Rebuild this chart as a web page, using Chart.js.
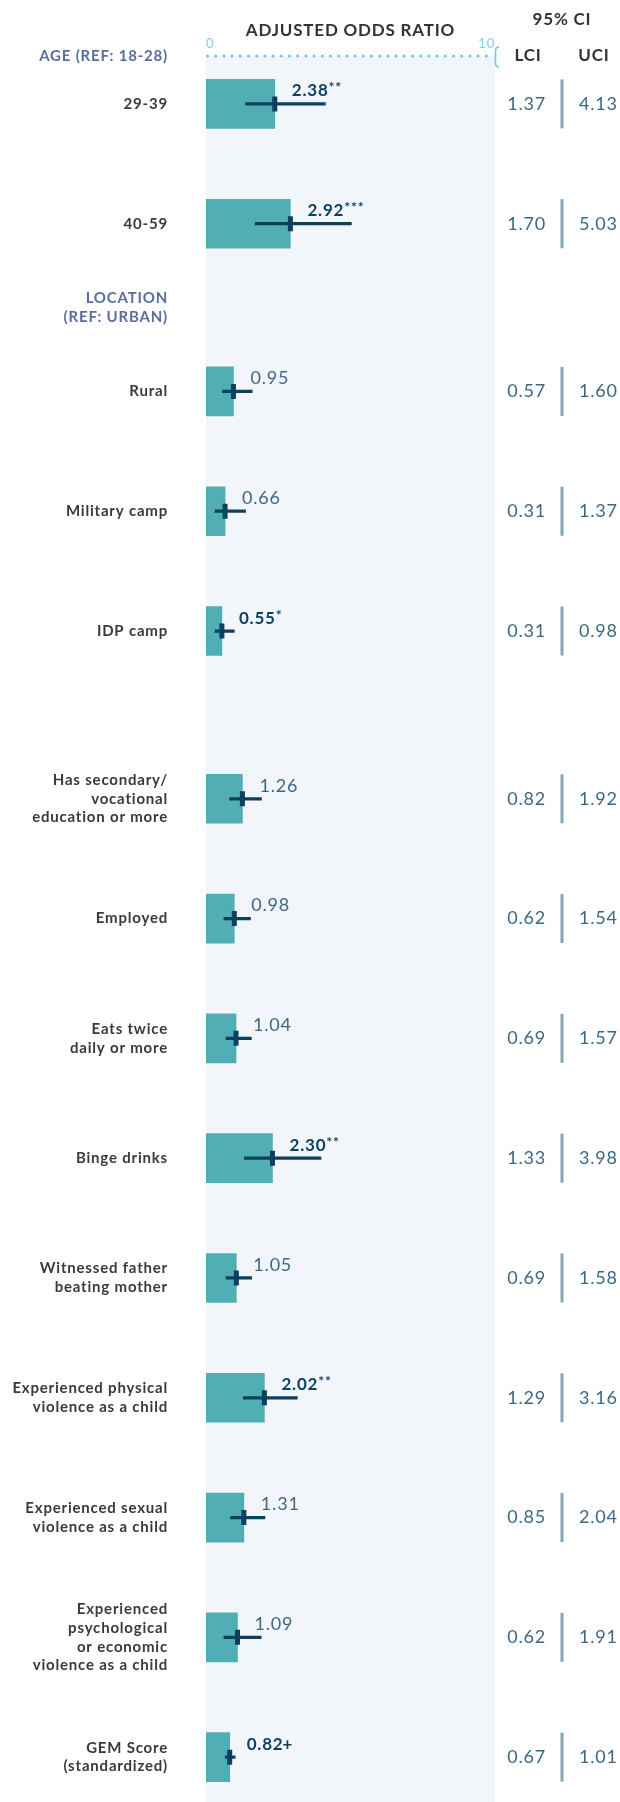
<!DOCTYPE html>
<html>
<head>
<meta charset="utf-8">
<script src="https://cdn.jsdelivr.net/npm/chart.js@4.4.1/dist/chart.umd.min.js"></script>
<style>
  html, body { margin: 0; padding: 0; background: #fff; }
  #wrap { position: relative; width: 620px; height: 1802px; }
</style>
</head>
<body>
<div id="wrap"><canvas id="chartOdds"></canvas></div>
<script>
/* Adjusted odds ratios with 95% CI */

const groupHeaders = [['AGE (REF: 18-28)'], ['LOCATION', '(REF: URBAN)'], []];

const categories = [
    ['29-39'],
    ['40-59'],
    ['Rural'],
    ['Military camp'],
    ['IDP camp'],
    ['Has secondary/', 'vocational', 'education or more'],
    ['Employed'],
    ['Eats twice', 'daily or more'],
    ['Binge drinks'],
    ['Witnessed father', 'beating mother'],
    ['Experienced physical', 'violence as a child'],
    ['Experienced sexual', 'violence as a child'],
    ['Experienced', 'psychological', 'or economic', 'violence as a child'],
    ['GEM Score', '(standardized)']
];
const categoryGroup = [0, 0, 1, 1, 1, 2, 2, 2, 2, 2, 2, 2, 2, 2];

const oddsRatios   = [2.38, 2.92, 0.95, 0.66, 0.55, 1.26, 0.98, 1.04, 2.30, 1.05, 2.02, 1.31, 1.09, 0.82];
const lowerCI      = [1.37, 1.70, 0.57, 0.31, 0.31, 0.82, 0.62, 0.69, 1.33, 0.69, 1.29, 0.85, 0.62, 0.67];
const upperCI      = [4.13, 5.03, 1.60, 1.37, 0.98, 1.92, 1.54, 1.57, 3.98, 1.58, 3.16, 2.04, 1.91, 1.01];
const significance = ['**', '***', '', '', '*', '', '', '', '**', '', '**', '', '', '+'];

const xTicks = [0, 10];

// colores
const TEAL = '#52aeb5';
const NAVY = '#0d3f5f';
const PANEL = '#f2f6fb';
const SKY = '#74c7e5';
const SLATE = '#5a6d9f';
const LABEL = '#3a3a3a';
const CI_TEXT = '#3d6884';
const CI_RULE = '#87a5b5';
const FONT = 'Lato';

// posiciones de filas: cada grupo nuevo deja un hueco extra
const GROUP_GAP = 0.4;
const rowPos = categories.map((c, i) => i + categoryGroup[i] * GROUP_GAP);
const Y_MIN = -0.4;
const Y_MAX = 14.07;

// ticks del eje y: cabeceras de grupo + filas
const yTicks = [];
groupHeaders.forEach((h, g) => {
    if (!h.length) return;
    const first = categoryGroup.indexOf(g);
    yTicks.push({ value: Math.max(Y_MIN, rowPos[first] - 0.7), label: h, header: true });
});
categories.forEach((c, i) => yTicks.push({ value: rowPos[i], label: c, header: false }));

/**
 * Fondo del panel, linea punteada del eje y tipografia espaciada
 */
const panelPlugin = {
    id: 'panel',
    beforeDraw(chart) {
        const { ctx, chartArea: a } = chart;
        ctx.save();
        ctx.fillStyle = PANEL;
        ctx.fillRect(a.left, a.top, a.right - a.left, chart.height - a.top);

        ctx.strokeStyle = SKY;
        ctx.lineWidth = 3.2;
        ctx.lineCap = 'round';
        ctx.setLineDash([0, 8.2]);
        ctx.beginPath();
        ctx.moveTo(a.left + 1.5, a.top);
        ctx.lineTo(a.right - 3, a.top);
        ctx.stroke();
        ctx.restore();
        ctx.letterSpacing = '0.8px';
    }
};

/**
 * Etiquetas de valor, columnas LCI / UCI y cabeceras
 */
const labelsPlugin = {
    id: 'oddsLabels',
    afterDatasetsDraw(chart) {
        const { ctx, chartArea: a, scales: { x, y } } = chart;
        const colL = a.right + 51;
        const colRule = a.right + 67;
        const colU = a.right + 84;

        ctx.save();
        ctx.textBaseline = 'middle';

        oddsRatios.forEach((or, i) => {
            const yc = y.getPixelForValue(rowPos[i]);
            let tx = x.getPixelForValue(or) + 17;
            const ty = yc - 13;
            const sig = significance[i];
            const txt = or.toFixed(2);
            ctx.textAlign = 'left';
            if (sig) {
                ctx.font = `700 17px ${FONT}`;
                ctx.fillStyle = NAVY;
                ctx.fillText(txt, tx, ty);
                tx += ctx.measureText(txt).width;
                if (sig === '+') {
                    ctx.fillText('+', tx - 1, ty);
                } else {
                    ctx.font = `700 14px ${FONT}`;
                    ctx.fillText(sig, tx, ty - 3);
                }
            } else {
                ctx.font = `400 18px ${FONT}`;
                ctx.fillStyle = CI_TEXT;
                ctx.fillText(txt, tx, ty);
            }

            ctx.font = `400 18px ${FONT}`;
            ctx.fillStyle = CI_TEXT;
            ctx.textAlign = 'right';
            ctx.fillText(lowerCI[i].toFixed(2), colL, yc);
            ctx.textAlign = 'left';
            ctx.fillText(upperCI[i].toFixed(2), colU, yc);

            ctx.fillStyle = CI_RULE;
            ctx.fillRect(colRule - 1.5, yc - 24.5, 3, 49);
        });

        // cabeceras de columnas
        ctx.fillStyle = '#333';
        ctx.textAlign = 'center';
        ctx.font = `700 17px ${FONT}`;
        ctx.fillText('95% CI', colRule, 20);
        ctx.fillText('LCI', colL - 18, a.top);
        ctx.fillText('UCI', colU + 15, a.top);

        // corchete al final del eje
        ctx.strokeStyle = SKY;
        ctx.lineWidth = 1.6;
        ctx.beginPath();
        ctx.moveTo(a.right + 4, a.top - 9);
        ctx.quadraticCurveTo(a.right + 0.5, a.top - 9, a.right + 0.5, a.top - 5);
        ctx.lineTo(a.right + 0.5, a.top + 7);
        ctx.quadraticCurveTo(a.right + 0.5, a.top + 11, a.right + 4, a.top + 11);
        ctx.stroke();
        ctx.restore();
    }
};

function inicializarChart() {
    const ctx = document.getElementById('chartOdds');

    new Chart(ctx, {
        type: 'bar',
        data: {
            datasets: [
                {
                    type: 'scatter',
                    label: 'OR marker',
                    data: oddsRatios.map((v, i) => ({ x: v, y: rowPos[i] })),
                    pointStyle: 'line',
                    rotation: 90,
                    radius: 7.5,
                    borderWidth: 5,
                    borderColor: NAVY,
                    backgroundColor: NAVY,
                    order: 1
                },
                {
                    label: '95% CI',
                    data: lowerCI.map((v, i) => ({ x: [v, upperCI[i]], y: rowPos[i] })),
                    backgroundColor: NAVY,
                    barThickness: 2.6,
                    grouped: false,
                    order: 2
                },
                {
                    label: 'Adjusted odds ratio',
                    data: oddsRatios.map((v, i) => ({ x: v, y: rowPos[i] })),
                    backgroundColor: TEAL,
                    barThickness: 49,
                    grouped: false,
                    order: 3
                }
            ]
        },
        options: {
            indexAxis: 'y',
            responsive: true,
            maintainAspectRatio: false,
            animation: false,
            devicePixelRatio: 1,
            layout: { padding: { top: 0, right: 125, bottom: 0, left: 0 } },
            plugins: {
                legend: { display: false },
                tooltip: { enabled: false }
            },
            scales: {
                x: {
                    type: 'linear',
                    position: 'top',
                    min: xTicks[0],
                    max: xTicks[xTicks.length - 1],
                    afterBuildTicks: (scale) => {
                        scale.ticks = xTicks.map(v => ({ value: v }));
                    },
                    afterFit: (scale) => { scale.height = 56; },
                    ticks: {
                        align: 'inner',
                        padding: 4,
                        color: '#84cde8',
                        font: { family: FONT, size: 13, weight: '400' }
                    },
                    grid: { display: false, drawTicks: false },
                    border: { display: false },
                    title: {
                        display: true,
                        text: 'ADJUSTED ODDS RATIO',
                        color: '#333',
                        font: { family: FONT, size: 17, weight: '700' },
                        padding: { top: 20, bottom: 0 }
                    }
                },
                y: {
                    type: 'linear',
                    reverse: true,
                    offset: false,
                    bounds: 'data',
                    min: Y_MIN,
                    max: Y_MAX,
                    afterBuildTicks: (scale) => {
                        scale.ticks = yTicks.map(t => ({ value: t.value }));
                        scale.min = Y_MIN;
                        scale.max = Y_MAX;
                    },
                    afterFit: (scale) => {
                        scale.width = 206;
                        scale.paddingTop = 0;
                        scale.paddingBottom = 0;
                    },
                    ticks: {
                        autoSkip: false,
                        padding: 30,
                        callback: (value, index) => yTicks[index].label,
                        color: (c) => (yTicks[c.index] && yTicks[c.index].header) ? SLATE : LABEL,
                        font: { family: FONT, size: 15, weight: '700', lineHeight: 1.25 }
                    },
                    grid: { display: false, offset: false },
                    border: { display: false }
                }
            }
        },
        plugins: [panelPlugin, labelsPlugin]
    });
}

if (document.readyState === 'loading') {
    document.addEventListener('DOMContentLoaded', inicializarChart);
} else {
    inicializarChart();
}
</script>
</body>
</html>
